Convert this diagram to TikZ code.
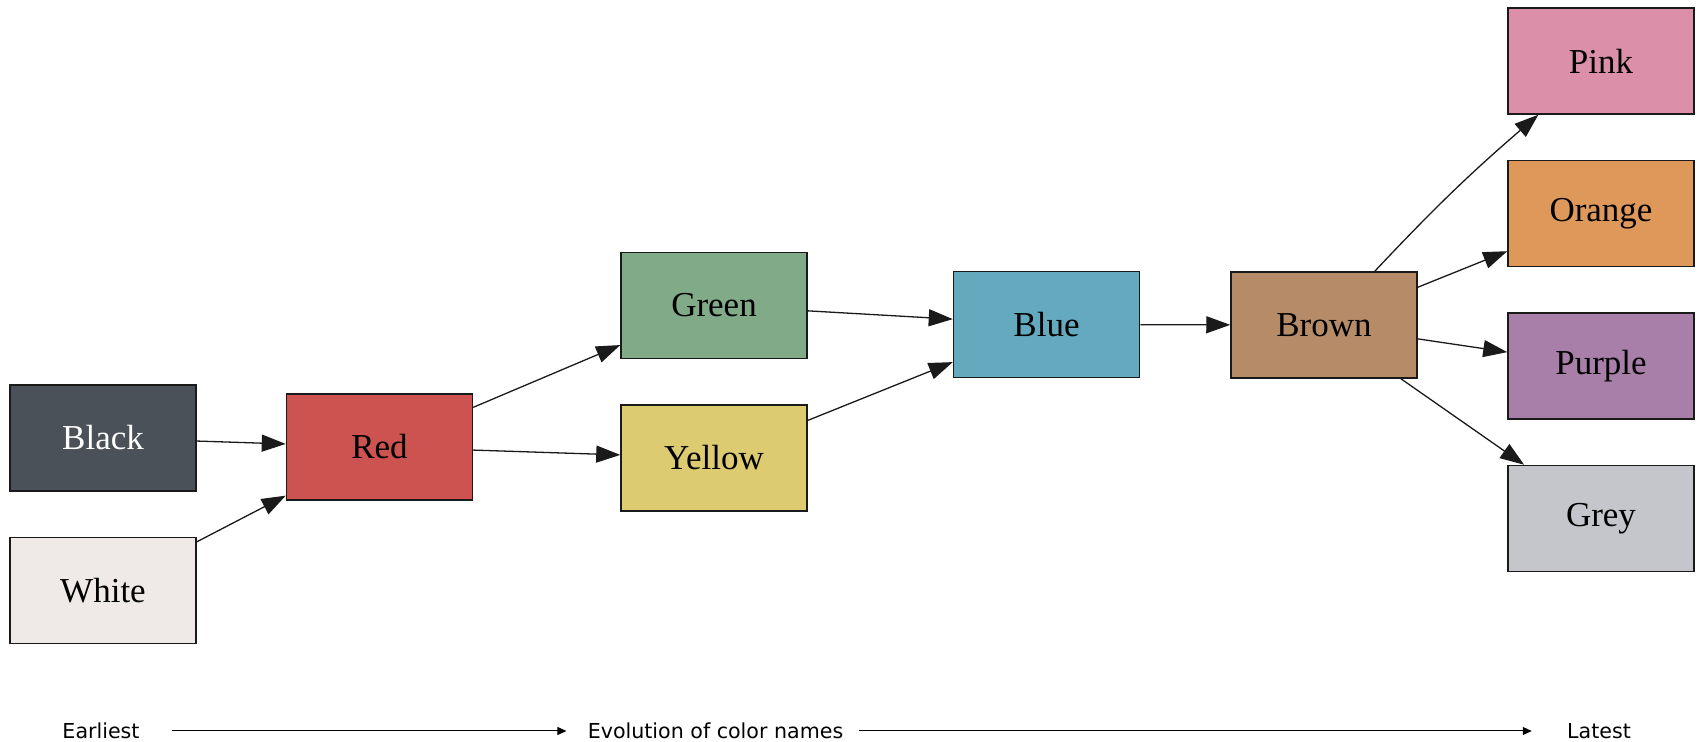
\documentclass[tikz,border=0pt]{standalone}
\usepackage{fontspec}
\setmainfont{Liberation Serif}
\newfontfamily\axisfont{DejaVu Sans}
\usetikzlibrary{arrows.meta,positioning}
\definecolor{boxBlack}{HTML}{4A5159}
\definecolor{boxWhite}{HTML}{EFEAE7}
\definecolor{boxRed}{HTML}{CC5350}
\definecolor{boxGreen}{HTML}{80AA88}
\definecolor{boxYellow}{HTML}{DCCB70}
\definecolor{boxBlue}{HTML}{65A9BE}
\definecolor{boxBrown}{HTML}{B68C68}
\definecolor{boxPink}{HTML}{DB8FA8}
\definecolor{boxOrange}{HTML}{DE995A}
\definecolor{boxPurple}{HTML}{A87FA8}
\definecolor{boxGrey}{HTML}{C4C6CB}
\definecolor{edgeDark}{HTML}{1A1A1A}

\begin{document}
\begin{tikzpicture}[
      x=0.5pt, y=-0.5pt,
      node distance=22.5pt,
      colorbox/.style={
        rectangle, draw=edgeDark, line width=0.75pt, inner sep=0pt,
        minimum width=93pt, minimum height=53pt,
        font=\fontsize{17.5pt}{20pt}\selectfont
      },
      flowarr/.style={-{Triangle[length=12pt,width=8.5pt]}, draw=edgeDark, line width=0.65pt},
      axislabel/.style={inner sep=0pt, font=\axisfont\fontsize{10.3pt}{12pt}\selectfont},
      axisarr/.style={-{Triangle[length=4.5pt,width=4pt]}, line width=0.5pt}
    ]
      \useasboundingbox (0,0) rectangle (1699,742);

      % first column and red
      \node[colorbox, fill=boxBlack, text=white] (black) at (103,438) {Black};
      \node[colorbox, fill=boxWhite, below=of black] (white) {White};
      \node[colorbox, fill=boxRed] (red) at (379.5,447) {Red};

      % green / yellow / blue / brown
      \node[colorbox, fill=boxGreen] (green) at (714,305.5) {Green};
      \node[colorbox, fill=boxYellow, below=of green] (yellow) {Yellow};
      \node[colorbox, fill=boxBlue] (blue) at (1046.5,324.5) {Blue};
      \node[colorbox, fill=boxBrown] (brown) at (1324,325) {Brown};

      % last column
      \node[colorbox, fill=boxPink] (pink) at (1601,61) {Pink};
      \node[colorbox, fill=boxOrange, below=of pink] (orange) {Orange};
      \node[colorbox, fill=boxPurple, below=of orange] (purple) {Purple};
      \node[colorbox, fill=boxGrey, below=of purple] (grey) {Grey};

      \draw[flowarr] (black) -- (red);
      \draw[flowarr] (white) -- (red);
      \draw[flowarr] (red) -- (green);
      \draw[flowarr] (red) -- (yellow);
      \draw[flowarr] (green) -- (blue);
      \draw[flowarr] (yellow) -- (blue);
      \draw[flowarr] (blue) -- (brown);
      \draw[flowarr] (brown) to[bend left=3] (pink);
      \draw[flowarr] (brown) -- (orange);
      \draw[flowarr] (brown) -- (purple);
      \draw[flowarr] (brown) -- (grey);

      % time axis
      \node[axislabel] (earliest) at (101,731) {Earliest};
      \node[axislabel] (evolution) at (715.5,731) {Evolution of color names};
      \node[axislabel] (latest) at (1599,731) {Latest};
      \draw[axisarr, shorten <=16pt, shorten >=10.5pt] (earliest) -- (evolution);
      \draw[axisarr, shorten <=7.5pt, shorten >=17.5pt] (evolution) -- (latest);
    \end{tikzpicture}
\end{document}
